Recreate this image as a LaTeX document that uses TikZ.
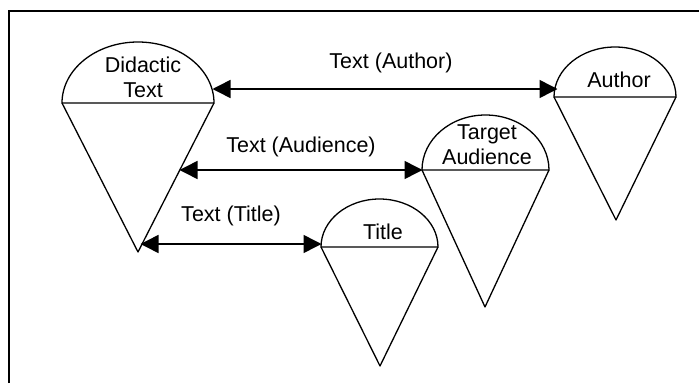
\documentclass[tikz,border=0pt]{standalone}
\usepackage{fontspec}
\setmainfont{Liberation Sans}
\usetikzlibrary{arrows.meta}
\begin{document}
\begin{tikzpicture}[x=1pt,y=-1pt,
  shape line/.style={line width=1.3pt, line join=round},
  link/.style={line width=1.5pt, {Triangle[length=18pt,width=18pt]}-{Triangle[length=18pt,width=18pt]}, shorten <=-0.5pt, shorten >=-0.5pt},
  lbl/.style={font=\fontsize{21.5}{25}\selectfont, inner sep=0pt, align=center},
  frame/.style={line width=2pt}]
\useasboundingbox (0,0) rectangle (699,383);
\draw[frame] (9,383) -- (9,11) -- (699,11);
% Didactic Text cone
\draw[shape line] (62,103) arc[start angle=180,end angle=360,x radius=76,y radius=61] -- cycle;
\draw[shape line] (62,103) -- (138,252) -- (214,103);
\node[lbl] (didactic) at (143,77) {Didactic\\Text};
% Author cone
\draw[shape line] (554,97) arc[start angle=180,end angle=360,x radius=61,y radius=50] -- cycle;
\draw[shape line] (554,97) -- (616,220) -- (676,97);
\node[lbl] (author) at (619,80) {Author};
% Target Audience cone
\draw[shape line] (422,170) arc[start angle=180,end angle=360,x radius=63.5,y radius=55] -- cycle;
\draw[shape line] (422,170) -- (485,307) -- (549,170);
\node[lbl] (target) at (487,145) {Target\\Audience};
% Title cone
\draw[shape line] (321,247) arc[start angle=180,end angle=360,x radius=58.5,y radius=48] -- cycle;
\draw[shape line] (321,247) -- (380,366) -- (438,247);
\node[lbl] (title) at (383,232) {Title};
% connector end points
\coordinate (dA) at (213,89);
\coordinate (aA) at (557,89);
\coordinate (dB) at (180,170);
\coordinate (tB) at (422,170);
\coordinate (dC) at (141,244);
\coordinate (tC) at (321,244);
\draw[link] (dA) -- (aA);
\draw[link] (dB) -- (tB);
\draw[link] (dC) -- (tC);
\node[lbl] (l1) at (391,63) {Text (Author)};
\node[lbl] (l2) at (301,147) {Text (Audience)};
\node[lbl] (l3) at (231,216) {Text (Title)};
\end{tikzpicture}
\end{document}
